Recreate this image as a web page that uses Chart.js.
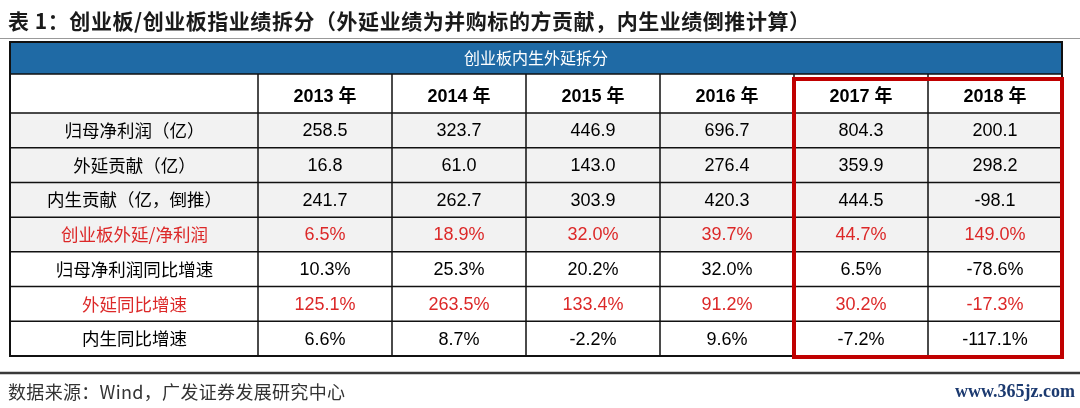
<!DOCTYPE html>
<html>
<head>
<meta charset="utf-8">
<script src="https://cdn.jsdelivr.net/npm/chart.js@4.4.0/dist/chart.umd.min.js"></script>
<style>
  html, body { margin: 0; padding: 0; background: #fff; }
</style>
</head>
<body>
<canvas id="myChart" width="1080" height="408"></canvas>
<script>
var title = '表 1：创业板/创业板指业绩拆分（外延业绩为并购标的方贡献，内生业绩倒推计算）';
var tableHead = '创业板内生外延拆分';
var source = '数据来源：Wind，广发证券发展研究中心';
var watermark = 'www.365jz.com';

var years = ['2013 年', '2014 年', '2015 年', '2016 年', '2017 年', '2018 年'];
var rowNames = ['归母净利润（亿）', '外延贡献（亿）', '内生贡献（亿，倒推）', '创业板外延/净利润',
                '归母净利润同比增速', '外延同比增速', '内生同比增速'];

// values per row, one per year
var netProfit = [258.5, 323.7, 446.9, 696.7, 804.3, 200.1];
var extContribution = [16.8, 61.0, 143.0, 276.4, 359.9, 298.2];
var intContribution = [241.7, 262.7, 303.9, 420.3, 444.5, -98.1];
var extShare = [6.5, 18.9, 32.0, 39.7, 44.7, 149.0];
var netProfitGrowth = [10.3, 25.3, 20.2, 32.0, 6.5, -78.6];
var extGrowth = [125.1, 263.5, 133.4, 91.2, 30.2, -17.3];
var intGrowth = [6.6, 8.7, -2.2, 9.6, -7.2, -117.1];

var rowValues = [netProfit, extContribution, intContribution, extShare, netProfitGrowth, extGrowth, intGrowth];
var rowUnits = ['', '', '', '%', '%', '%', '%'];
var redRows = [false, false, false, true, false, true, false];
var shadedRows = [true, true, true, true, false, false, false];
var highlightYears = ['2017 年', '2018 年'];

var RED = '#dc2828';
var BLUE = '#1f6aa5';
var NUM_FONT = 'Arial, "Liberation Sans", "Noto Sans CJK SC", sans-serif';
var CJK_FONT = '"Noto Sans CJK SC", sans-serif';

var tableTop = 42;   // top of blue band
var bandH = 32;

// draw text stretched with letter spacing so it ends near a given x
function spacedText(ctx, text, x, y, endX) {
    ctx.letterSpacing = '0px';
    var w = ctx.measureText(text).width;
    var gap = Math.max(0, (endX - x - w) / (text.length - 1));
    ctx.letterSpacing = gap + 'px';
    ctx.fillText(text, x, y);
    ctx.letterSpacing = '0px';
}

var tablePlugin = {
    id: 'tablePlugin',
    beforeDraw: function(chart) {
        var ctx = chart.ctx;
        var ys = chart.scales.y;
        var area = chart.chartArea;
        var left = ys.left, right = area.right;
        ctx.save();
        ctx.fillStyle = '#fff';
        ctx.fillRect(0, 0, chart.width, chart.height);

        // title
        ctx.fillStyle = '#1a1a1a';
        ctx.font = 'bold 21px ' + CJK_FONT;
        ctx.textBaseline = 'middle';
        ctx.textAlign = 'left';
        spacedText(ctx, title, 8, 21, 810);
        ctx.strokeStyle = '#999';
        ctx.lineWidth = 1;
        ctx.beginPath(); ctx.moveTo(0, 38.5); ctx.lineTo(chart.width, 38.5); ctx.stroke();

        // blue band
        ctx.fillStyle = BLUE;
        ctx.fillRect(left, tableTop, right - left, bandH);
        ctx.fillStyle = '#fff';
        ctx.font = '16px ' + CJK_FONT;
        ctx.textAlign = 'center';
        ctx.fillText(tableHead, (left + right) / 2, tableTop + bandH / 2);

        // shaded rows
        ctx.fillStyle = '#f2f2f2';
        rowNames.forEach(function(name, r) {
            if (!shadedRows[r]) return;
            var y0 = ys.getPixelForValue(r - 0.5), y1 = ys.getPixelForValue(r + 0.5);
            ctx.fillRect(left, Math.min(y0, y1), right - left, Math.abs(y1 - y0));
        });

        // footer
        ctx.strokeStyle = '#3a3a3a';
        ctx.lineWidth = 2.5;
        ctx.beginPath(); ctx.moveTo(0, 373); ctx.lineTo(chart.width, 373); ctx.stroke();
        ctx.fillStyle = '#333';
        ctx.font = '18px ' + CJK_FONT;
        ctx.textAlign = 'left';
        spacedText(ctx, source, 8, 392, 345);
        ctx.fillStyle = '#1c3a70';
        ctx.font = 'bold 18px "Liberation Serif", serif';
        ctx.textAlign = 'right';
        ctx.fillText(watermark, 1075, 392);
        ctx.restore();
    },
    afterDatasetsDraw: function(chart) {
        var ctx = chart.ctx;
        ctx.save();
        ctx.font = '18px ' + NUM_FONT;
        ctx.textAlign = 'center';
        ctx.textBaseline = 'middle';
        chart.data.datasets.forEach(function(ds, r) {
            var meta = chart.getDatasetMeta(r);
            ctx.fillStyle = redRows[r] ? RED : '#000';
            meta.data.forEach(function(pt, i) {
                ctx.fillText(ds.data[i].v.toFixed(1) + rowUnits[r], pt.x, pt.y + 1);
            });
        });
        ctx.restore();
    },
    afterDraw: function(chart) {
        var ctx = chart.ctx;
        var xs = chart.scales.x, ys = chart.scales.y;
        var area = chart.chartArea;
        var left = ys.left, right = area.right, top = tableTop + bandH, bottom = area.bottom;
        ctx.save();
        ctx.strokeStyle = '#111';
        ctx.lineWidth = 1.5;
        ctx.beginPath();
        // horizontal row lines
        for (var r = 0; r <= rowNames.length; r++) {
            var y = ys.getPixelForValue(r - 0.5);
            ctx.moveTo(left, y); ctx.lineTo(right, y);
        }
        ctx.moveTo(left, top); ctx.lineTo(right, top);
        // vertical column lines
        for (var c = 0; c < years.length; c++) {
            var x = xs.getPixelForValue(c - 0.5);
            ctx.moveTo(x, top); ctx.lineTo(x, bottom);
        }
        ctx.stroke();
        // outer border
        ctx.lineWidth = 2;
        ctx.strokeRect(left, tableTop, right - left, bottom - tableTop);

        // red highlight box
        var c0 = years.indexOf(highlightYears[0]), c1 = years.indexOf(highlightYears[highlightYears.length - 1]);
        var hx0 = xs.getPixelForValue(c0 - 0.5), hx1 = xs.getPixelForValue(c1 + 0.5);
        ctx.strokeStyle = '#c00000';
        ctx.lineWidth = 4;
        ctx.strokeRect(hx0, top + 5, hx1 - hx0, bottom - top - 4);
        ctx.restore();
    }
};

var datasets = rowValues.map(function(vals, r) {
    return {
        label: rowNames[r],
        data: vals.map(function(v, i) { return { x: years[i], y: rowNames[r], v: v }; }),
        pointRadius: 0,
        pointHoverRadius: 0
    };
});

var ctx = document.getElementById('myChart').getContext('2d');
var chart = new Chart(ctx, {
    type: 'scatter',
    data: { datasets: datasets },
    plugins: [tablePlugin],
    options: {
        responsive: false,
        animation: false,
        events: [],
        layout: { padding: { left: 10, right: 18, top: tableTop + bandH, bottom: 52 } },
        plugins: { legend: { display: false }, tooltip: { enabled: false } },
        scales: {
            x: {
                type: 'category',
                labels: years,
                position: 'top',
                offset: true,
                grid: { display: false },
                border: { display: false },
                ticks: { color: '#000', padding: -3, font: { family: NUM_FONT, size: 18, weight: 'bold' } },
                afterFit: function(s) { s.height = 39; }
            },
            y: {
                type: 'category',
                labels: rowNames,
                offset: true,
                grid: { display: false },
                border: { display: false },
                ticks: {
                    crossAlign: 'center',
                    padding: 28,
                    color: function(c) { return redRows[c.index] ? RED : '#000'; },
                    font: { family: CJK_FONT, size: 17.5 }
                },
                afterFit: function(s) { s.width = 248; }
            }
        }
    }
});
</script>
</body>
</html>
